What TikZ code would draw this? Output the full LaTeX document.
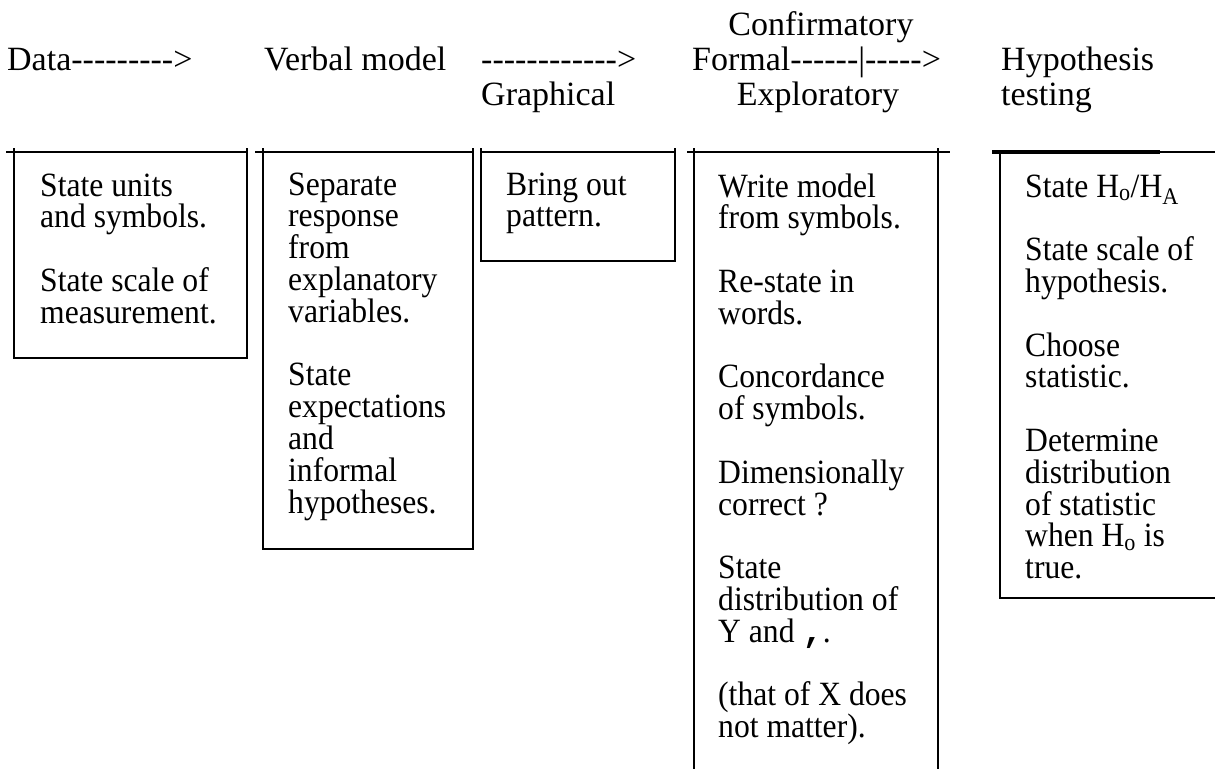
\documentclass[tikz,border=0pt]{standalone}
\usepackage{fontspec}
\setmainfont{Liberation Serif}
\setmonofont{Liberation Mono}
\newfontfamily\bodyfont{Liberation Serif}[FakeStretch=0.93]
\newcommand\hy{-\kern0pt}
\newcommand\bodytext[1]{\parbox[t]{300pt}{\bodyfont\fontsize{34}{31.8}\selectfont\raggedright #1}}
\newcommand\gap{\\[31.8pt]}
\begin{document}
\begin{tikzpicture}[x=1pt,y=-1pt,
  border/.style={line width=2.5pt},
  thickborder/.style={line width=4pt},
  head/.style={font=\fontsize{34}{40}\selectfont, inner sep=0pt, anchor=base west},
  body/.style={inner sep=0pt, anchor=base west}]
\useasboundingbox (0,0) rectangle (1215,769);
% header
\node[head] (data) at (7,70) {Data\hy\hy\hy\hy\hy\hy\hy\hy\hy>};
\node[head] (verbal) at (264,70) {Verbal model};
\node[head] (arrowg) at (481,70) {\hy\hy\hy\hy\hy\hy\hy\hy\hy\hy\hy\hy>};
\node[head] (graph) at (481,105) {Graphical};
\node[head] (formal) at (692,70) {Formal\hy\hy\hy\hy\hy\hy|\hy\hy\hy\hy\hy>};
\node[head, anchor=base] (conf) at (821,35) {Confirmatory};
\node[head, anchor=base] (expl) at (818,105) {Exploratory};
\node[head] (hyp) at (1001,70) {Hypothesis};
\node[head] (test) at (1001,105) {testing};
% box 1
\draw[border] (6,152) -- (247,152);
\draw[border] (14,148) -- (14,358) -- (247,358) -- (247,148);
% box 2
\draw[border] (255,152) -- (473,152);
\draw[border] (263,148) -- (263,549) -- (473,549) -- (473,148);
% box 3
\draw[border] (481,152) -- (675,152);
\draw[border] (481,148) -- (481,261) -- (675,261) -- (675,148);
% box 4
\draw[border] (687,152) -- (950,152);
\draw[border] (694,148) -- (694,769);
\draw[border] (938,148) -- (938,769);
% box 5
\draw[thickborder] (992,152) -- (1160,152);
\draw[border] (1160,152) -- (1215,152);
\draw[border] (1000,152) -- (1000,598) -- (1215,598);
% texts
\node[body] (t1) at (40,196) {\bodytext{State units\\ and symbols.\gap State scale of\\ measurement.}};
\node[body] (t2) at (288,195) {\bodytext{Separate\\ response\\ from\\ explanatory\\ variables.\gap State\\ expectations\\ and\\ informal\\ hypotheses.}};
\node[body] (t3) at (506,195) {\bodytext{Bring out\\ pattern.}};
\node[body] (t4) at (718,197) {\bodytext{Write model\\ from symbols.\gap Re-state in\\ words.\gap Concordance\\ of symbols.\gap Dimensionally\\ correct ?\gap State\\ distribution of\\ Y and {\ttfamily\bfseries ,}.\gap (that of X does\\ not matter).}};
\node[body] (t5) at (1025,197) {\bodytext{State H\textsubscript{o}/H\textsubscript{A}\gap State scale of\\ hypothesis.\gap Choose\\ statistic.\gap Determine\\ distribution\\ of statistic\\ when H\textsubscript{o} is\\ true.}};
\end{tikzpicture}
\end{document}
